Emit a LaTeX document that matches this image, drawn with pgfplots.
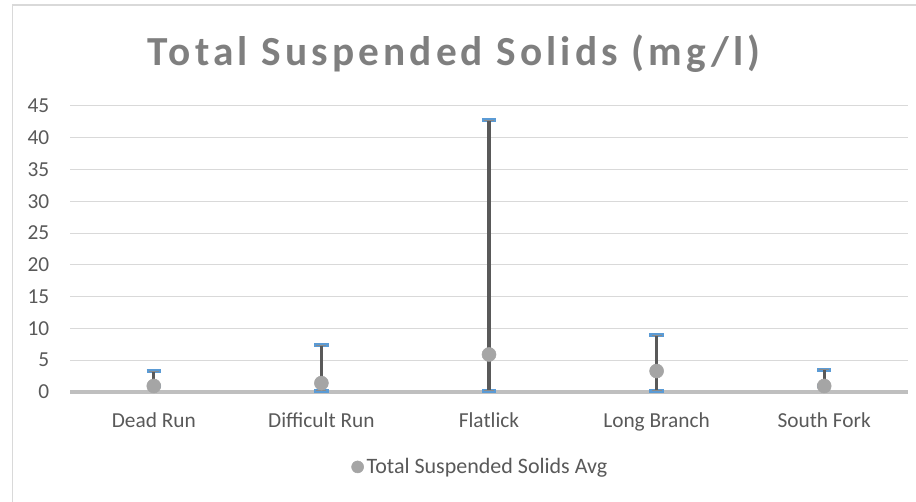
\documentclass[border=0pt]{standalone}
\usepackage{fontspec}
\setmainfont{Carlito}
\newfontfamily\titlefont[LetterSpace=10]{Carlito Bold}
\usepackage{pgfplots}
\usepackage{pgfplotstable}
\pgfplotsset{compat=1.18}

\definecolor{txtgray}{HTML}{595959}
\definecolor{titlegray}{HTML}{7F7F7F}
\definecolor{gridgray}{HTML}{D9D9D9}
\definecolor{basegray}{HTML}{BFBFBF}
\definecolor{linegray}{HTML}{595959}
\definecolor{dotgray}{HTML}{A5A5A5}
\definecolor{tssblue}{HTML}{5B9BD5}

% x = category index, low / high / average
\pgfplotstableread{
x low high avg
0 0.95 3.3 0.95
1 0.2 7.4 1.4
2 0.2 42.8 5.9
3 0.2 9.0 3.3
4 0.95 3.5 0.95
}\tssdata

\begin{document}
\begin{tikzpicture}
\useasboundingbox (0,0) rectangle (687pt,376.5pt);
% chart frame
\draw[gridgray, line width=1.1pt] (9.4pt,-2pt) -- (9.4pt,372.75pt) -- (690pt,372.75pt);
% title
\node[anchor=base, text=titlegray, font=\titlefont\fontsize{31}{35}\selectfont]
  at (340.5pt,327pt) {Total Suspended Solids (mg/l)};

\begin{axis}[
    at={(52.5pt,82.5pt)}, anchor=south west,
    scale only axis,
    width=628.5pt, height=214.5pt,
    xmin=-0.5, xmax=4.5,
    ymin=0, ymax=45,
    ytick={0,5,...,45},
    xtick=data,
    xticklabels={Dead Run, Difficult Run, Flatlick, Long Branch, South Fork},
    axis line style={draw=none},
    major tick length=0pt,
    ymajorgrids,
    grid style={gridgray, line width=0.75pt},
    tick label style={font=\fontsize{16}{19}\selectfont, text=txtgray},
    /pgf/number format/assume math mode=true,
    yticklabel style={xshift=-12pt},
    xticklabel style={yshift=-12pt},
    legend style={at={(0.49,-0.262)}, anchor=center, draw=none,
        font=\fontsize{16.5}{19}\selectfont, text=txtgray},
    legend image code/.code={\fill[dotgray] (0.2cm,0cm) circle (4.5pt);},
    clip=false,
]
\draw[basegray, line width=2.3pt] (axis cs:-0.5,0) -- (axis cs:4.5,0);

% high-low lines with blue end caps
\addplot[draw=none, no marks, forget plot,
    error bars/.cd, y dir=both, y explicit,
    error bar style={linegray, line width=2.5pt},
    error mark=|,
    error mark options={tssblue, line width=3.2pt, mark size=5.4pt}]
  table[x=x, y=avg,
        y error plus expr=\thisrow{high}-\thisrow{avg},
        y error minus expr=\thisrow{avg}-\thisrow{low}] {\tssdata};
% thin grey core of the caps
\addplot[draw=none, no marks, forget plot,
    error bars/.cd, y dir=both, y explicit,
    error bar style={linegray, line width=2.5pt},
    error mark=|,
    error mark options={linegray!70, line width=0.4pt, mark size=3.8pt}]
  table[x=x, y=avg,
        y error plus expr=\thisrow{high}-\thisrow{avg},
        y error minus expr=\thisrow{avg}-\thisrow{low}] {\tssdata};

\addplot[only marks, mark=*, mark size=5.25pt, dotgray, mark options={draw=none, fill=dotgray}]
  table[x=x, y=avg] {\tssdata};
\addlegendentry{Total Suspended Solids Avg}
\end{axis}
\end{tikzpicture}
\end{document}
